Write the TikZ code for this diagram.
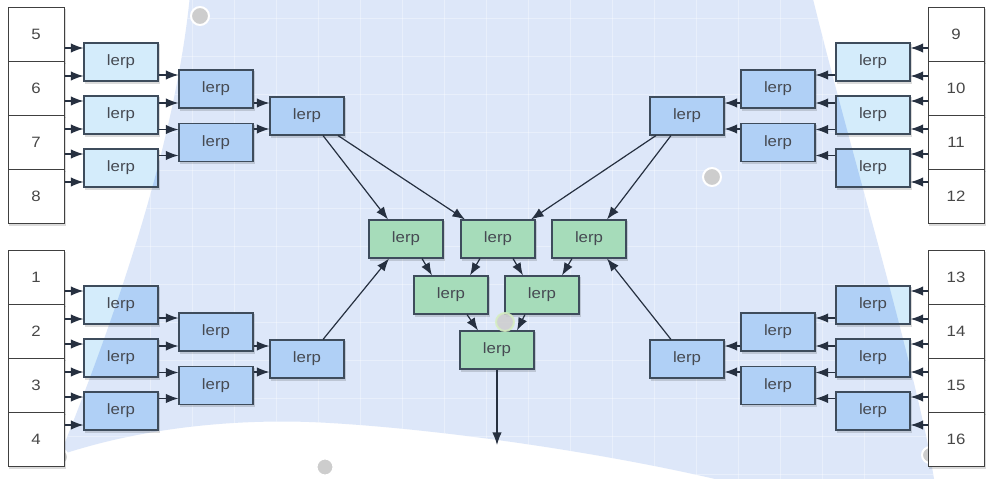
\documentclass[tikz,border=0pt]{standalone}
\usepackage{fontspec}
\setmainfont{Liberation Sans}[FakeStretch=1.12]
\usetikzlibrary{arrows.meta,calc}
\definecolor{bgblue}{RGB}{221,231,249}
\definecolor{lerplight}{RGB}{212,236,251}
\definecolor{lerpdark}{RGB}{176,208,246}
\definecolor{lerpgreen}{RGB}{166,220,186}
\definecolor{edgec}{RGB}{62,76,92}
\definecolor{arrowc}{RGB}{38,48,64}
\definecolor{textc}{RGB}{70,74,82}
\definecolor{dotc}{RGB}{205,205,205}
\pgfdeclarelayer{bgl}
\pgfdeclarelayer{filll}
\pgfsetlayers{bgl,filll,main}
\tikzset{
  lerpbox/.style={draw=edgec, line width=1.1pt, minimum width=74pt, minimum height=38pt,
    inner sep=0pt, text=textc, font=\fontsize{15}{17}\selectfont},
  greenbox/.style={lerpbox, fill=lerpgreen},
  numbox/.style={draw=black!75, line width=1pt, fill=white, minimum width=56pt,
    minimum height=54pt, inner sep=0pt, text=black!72, font=\fontsize{15}{17}\selectfont},
  arr/.style={draw=arrowc, line width=1.2pt, arrows={-Latex[scale=1.5]}},
  gridc/.style={draw=white, draw opacity=0.35, line width=1pt},
  shadowc/.style={fill=black, fill opacity=0.14},
  surf/.style={insert path={(190,-5) .. controls (175,150) and (110,330) .. (60,455)
    .. controls (150,425) and (250,418) .. (330,423)
    .. controls (450,430) and (620,455) .. (740,485) -- (935,485) -- (930,455)
    .. controls (905,330) and (850,150) .. (812,-5) -- cycle}},
}
\newcommand\harr[5]{%
  \coordinate (hh) at ([yshift=#3]#2.#5);
  \draw[arr] (#1.#4 |- hh) -- (hh);}
\newcommand\cluster[9]{%
  \node[numbox] (#1n1) at (#3,34+#7) {#2};
  \node[numbox] (#1n2) at (#3,88+#7) {\the\numexpr#2+1\relax};
  \node[numbox] (#1n3) at (#3,142+#7) {\the\numexpr#2+2\relax};
  \node[numbox] (#1n4) at (#3,196+#7) {\the\numexpr#2+3\relax};
  \node[lerpbox] (#1a) at (#4,62+#7) {lerp};
  \node[lerpbox] (#1b) at (#4,115+#7) {lerp};
  \node[lerpbox] (#1c) at (#4,168+#7) {lerp};
  \node[lerpbox] (#1d) at (#5,89+#7) {lerp};
  \node[lerpbox] (#1e) at (#5,142.5+#7) {lerp};
  \node[lerpbox] (#1f) at (#6,116+#7) {lerp};
  \harr{#1n1}{#1a}{14pt}{#8}{#9}
  \harr{#1n2}{#1a}{-14pt}{#8}{#9}
  \harr{#1n2}{#1b}{14pt}{#8}{#9}
  \harr{#1n3}{#1b}{-14pt}{#8}{#9}
  \harr{#1n3}{#1c}{14pt}{#8}{#9}
  \harr{#1n4}{#1c}{-14pt}{#8}{#9}
  \harr{#1a}{#1d}{14pt}{#8}{#9}
  \harr{#1b}{#1d}{-14pt}{#8}{#9}
  \harr{#1b}{#1e}{13pt}{#8}{#9}
  \harr{#1c}{#1e}{-13pt}{#8}{#9}
  \harr{#1d}{#1f}{13pt}{#8}{#9}
  \harr{#1e}{#1f}{-13pt}{#8}{#9}}
\begin{document}
\begin{tikzpicture}[x=1pt,y=-1pt]
\useasboundingbox (0,0) rectangle (993,479);
\clip (0,0) rectangle (993,479);
% background surface
\begin{pgfonlayer}{bgl}
  \fill[white] (0,0) rectangle (993,479);
  \fill[bgblue, surf];
  \begin{scope}
    \clip[surf];
    \foreach \x in {150,192,...,900} \draw[gridc] (\x,0) -- (\x,479);
    \foreach \y in {18,56,...,479} \draw[gridc] (0,\y) -- (993,\y);
  \end{scope}
  \foreach \cx/\cy/\r in {200/16/9,712/177/9,60/457/8,325/467/8.5,930/455/8}
    \fill[dotc, draw=white, line width=2pt] (\cx,\cy) circle[radius=\r];
\end{pgfonlayer}
% clusters
\cluster{tl}{5}{36}{121}{216}{307}{0}{east}{west}
\cluster{bl}{1}{36}{121}{216}{307}{243}{east}{west}
\cluster{tr}{9}{956}{873}{778}{687}{0}{west}{east}
\cluster{br}{13}{956}{873}{778}{687}{243}{west}{east}
% central green tree
\node[greenbox] (g1) at (406,239) {lerp};
\node[greenbox] (g2) at (498,239) {lerp};
\node[greenbox] (g3) at (589,239) {lerp};
\node[greenbox] (g4) at (451,295) {lerp};
\node[greenbox] (g5) at (542,295) {lerp};
\node[greenbox] (g6) at (497,350) {lerp};
\coordinate (out) at (497,445);
\draw[arr] ([xshift=16pt]tlf.south) -- ([xshift=-18pt]g1.north);
\draw[arr] ([xshift=31pt]tlf.south) -- ([xshift=-33pt]g2.north);
\draw[arr] ([xshift=-31pt]trf.south) -- ([xshift=33pt]g2.north);
\draw[arr] ([xshift=-16pt]trf.south) -- ([xshift=18pt]g3.north);
\draw[arr] ([xshift=16pt]blf.north) -- ([xshift=-17pt]g1.south);
\draw[arr] ([xshift=-16pt]brf.north) -- ([xshift=18pt]g3.south);
\draw[arr] ([xshift=16pt]g1.south) -- ([xshift=-19pt]g4.north);
\draw[arr] ([xshift=-18pt]g2.south) -- ([xshift=19pt]g4.north);
\draw[arr] ([xshift=15pt]g2.south) -- ([xshift=-19pt]g5.north);
\draw[arr] ([xshift=-17pt]g3.south) -- ([xshift=20pt]g5.north);
\draw[arr] ([xshift=16pt]g4.south) -- ([xshift=-19pt]g6.north);
\draw[arr] ([xshift=-17pt]g5.south) -- ([xshift=20pt]g6.north);
\draw[arr] (g6.south) -- (out);
% fills and shadows
\begin{pgfonlayer}{filll}
  \foreach \p in {tl,bl,tr,br}{
    \foreach \n in {n1,n2,n3,n4,a,b,c,d,e,f}
      \fill[shadowc] ([shift={(1.5pt,-2pt)}]\p\n.south west) rectangle ([shift={(1.5pt,-2pt)}]\p\n.north east);
  }
  \foreach \n in {1,...,6}
    \fill[shadowc] ([shift={(1.5pt,-2pt)}]g\n.south west) rectangle ([shift={(1.5pt,-2pt)}]g\n.north east);
  \foreach \p in {tl,bl,tr,br}{
    \foreach \n in {a,b,c,d,e,f}
      \fill[lerplight] (\p\n.south west) rectangle (\p\n.north east);
  }
  \begin{scope}
    \clip[surf];
    \foreach \p in {tl,bl,tr,br}{
      \foreach \n in {a,b,c,d,e,f}
        \fill[lerpdark] (\p\n.south west) rectangle (\p\n.north east);
    }
  \end{scope}
\end{pgfonlayer}
\fill[dotc, draw=yellow!35!green!25, line width=2pt, opacity=0.85] (505,322) circle[radius=9];
\end{tikzpicture}
\end{document}
